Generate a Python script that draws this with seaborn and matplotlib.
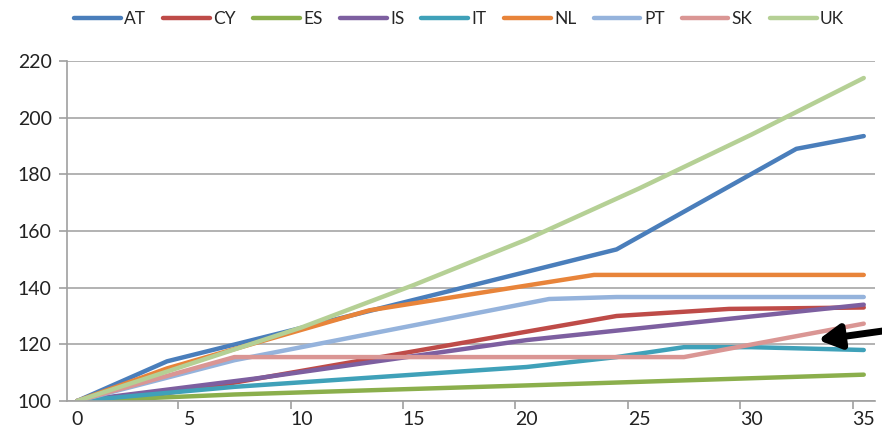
import numpy as np
import pandas as pd
import seaborn as sns
import matplotlib
matplotlib.use("Agg")
import matplotlib.pyplot as plt
from matplotlib.ticker import FixedLocator

countries = ["AT", "CY", "ES", "IS", "IT", "NL", "PT", "SK", "UK"]
colors = ["#4A7EBB", "#BE4B48", "#8BAF4C", "#7D5FA0", "#3FA1B9", "#E8843A", "#95B3DC", "#DA9694", "#B5D095"]

at_x = [0, 4, 24, 32, 35]
at_y = [100, 114, 153.5, 189, 193.5]
cy_x = [0, 2, 7, 24, 29, 35]
cy_y = [100, 100.3, 106.5, 130, 132.5, 133]
es_x = [0, 7, 20, 35]
es_y = [100, 102.3, 105.5, 109.3]
is_x = [0, 4, 8, 20, 35]
is_y = [100, 104, 108, 121.5, 134]
it_x = [0, 7, 20, 24, 27, 30, 35]
it_y = [100, 105, 112, 115.5, 119, 119, 118]
nl_x = [0, 4, 13, 23, 35]
nl_y = [100, 111.5, 132, 144.5, 144.5]
pt_x = [0, 7, 21, 24, 35]
pt_y = [100, 114.4, 136, 136.7, 136.7]
sk_x = [0, 7, 27, 35]
sk_y = [100, 115.5, 115.5, 127.3]
uk_x = [0, 5, 10, 15, 20, 25, 30, 35]
uk_y = [100, 113, 126, 141, 157, 175, 194, 214]

series_x = [at_x, cy_x, es_x, is_x, it_x, nl_x, pt_x, sk_x, uk_x]
series_y = [at_y, cy_y, es_y, is_y, it_y, nl_y, pt_y, sk_y, uk_y]

xtick_vals = [0, 5, 10, 15, 20, 25, 30, 35]
ytick_vals = [100, 120, 140, 160, 180, 200, 220]

rows = []
for c, xs, ys in zip(countries, series_x, series_y):
    for x, y in zip(xs, ys):
        rows.append({"country": c, "x": x, "y": y})
df = pd.DataFrame(rows)

sns.set_theme(style="white")
plt.rcParams["font.family"] = ["Lato", "DejaVu Sans"]

fig = plt.figure(figsize=(8.82, 4.41), dpi=100)
ax = fig.add_axes([67 / 882, 40 / 441, (875 - 67) / 882, (401 - 61) / 441])

sns.lineplot(data=df, x="x", y="y", hue="country", hue_order=countries,
             palette=colors, linewidth=3.2, ax=ax, legend=True, sort=False,
             estimator=None, solid_capstyle="round")

ax.set_xlim(-0.45, 35.5)
ax.set_ylim(100, 220)
ax.set_xlabel("")
ax.set_ylabel("")

ax.set_xticks(xtick_vals)
ax.set_xticklabels([str(v) for v in xtick_vals])
ax.xaxis.set_minor_locator(FixedLocator([v - 0.5 for v in xtick_vals]))
ax.tick_params(axis="x", which="major", length=0, pad=7, labelsize=14, colors="#222222")
ax.tick_params(axis="x", which="minor", length=6, width=1.2, color="#A0A0A0", direction="out", bottom=True)

ax.set_yticks(ytick_vals)
ax.tick_params(axis="y", which="major", length=6, width=1.2, color="#A0A0A0", direction="out",
               left=True, pad=5, labelsize=14, labelcolor="#222222")

ax.grid(axis="y", color="#A6A6A6", linewidth=1.2)
ax.grid(axis="x", visible=False)
ax.set_axisbelow(True)
for s in ["top", "right"]:
    ax.spines[s].set_visible(False)
for s in ["left", "bottom"]:
    ax.spines[s].set_color("#A0A0A0")
    ax.spines[s].set_linewidth(1.2)

leg = ax.legend(loc="upper center", bbox_to_anchor=(459 / 882, 1.0), bbox_transform=fig.transFigure,
                ncol=9, frameon=False, handlelength=2.7, handletextpad=0.2,
                columnspacing=0.98, borderaxespad=0.25,
                prop={"family": ["Lato", "DejaVu Sans"], "size": 12.5})
for line in leg.get_lines():
    line.set_linewidth(3.2)

ax.annotate("", xy=(818 / 882, 1 - 340 / 441), xytext=(890 / 882, 1 - 330 / 441),
            xycoords="figure fraction", textcoords="figure fraction",
            arrowprops=dict(arrowstyle="-|>,head_length=1.1,head_width=0.6", color="black",
                            lw=5, shrinkA=0, shrinkB=0), annotation_clip=False)

fig.savefig("out.png", dpi=100)
